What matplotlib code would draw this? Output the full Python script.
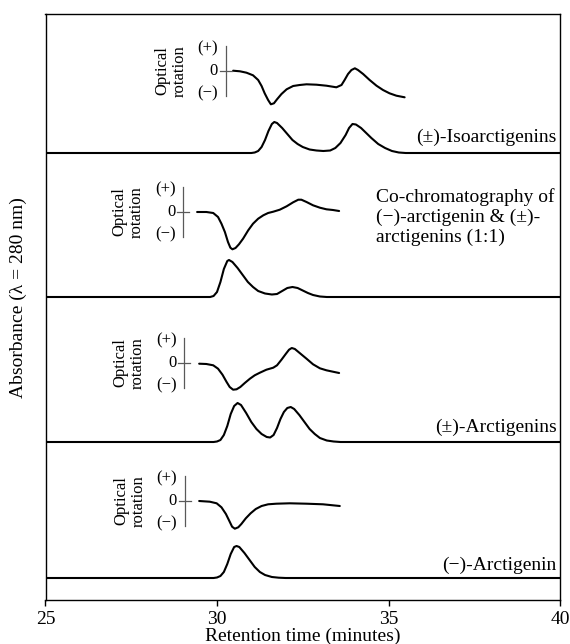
import matplotlib.pyplot as plt

plt.rcParams['font.family'] = ['Liberation Serif', 'DejaVu Serif']

# sample labels, top panel to bottom panel
samples = ['(±)-Isoarctigenins',
           'Co-chromatography of\n(−)-arctigenin & (±)-\narctigenins (1:1)',
           '(±)-Arctigenins',
           '(−)-Arctigenin']

# --- absorbance traces (retention time in min, height in arbitrary units) ---
iso_t = [25, 31.0, 31.1, 31.2, 31.3, 31.4, 31.5, 31.6, 31.67, 31.75, 31.9, 32.05,
         32.2, 32.35, 32.5, 32.7, 32.9, 33.1, 33.3, 33.45, 33.6, 33.75, 33.85,
         33.95, 34.05, 34.2, 34.35, 34.5, 34.7, 34.9, 35.1, 35.3, 35.5, 40]
iso_a = [0, 0, 0.5, 2, 6, 13, 22, 29, 31, 30, 25, 19,
         13, 9, 6, 3.5, 2.5, 2, 2.5, 5, 10, 18, 25,
         29, 28.5, 25, 20, 15, 9, 5, 2, 0.5, 0, 0]

cochrom_t = [25, 29.8, 29.9, 30.0, 30.1, 30.2, 30.3, 30.35, 30.45, 30.6, 30.75,
             30.9, 31.05, 31.2, 31.4, 31.6, 31.75, 31.9, 32.05, 32.2, 32.35,
             32.5, 32.65, 32.8, 33.0, 33.2, 40]
cochrom_a = [0, 0, 1, 5, 15, 28, 36, 37, 35, 29, 22,
             15, 10, 6, 3.5, 2.5, 3, 6, 9, 10, 9,
             6.5, 4, 2, 0.5, 0, 0]

racemic_t = [25, 29.9, 30.0, 30.1, 30.2, 30.3, 30.4, 30.5, 30.6, 30.7, 30.85,
             31.0, 31.15, 31.3, 31.45, 31.55, 31.65, 31.75, 31.85, 31.95, 32.05,
             32.15, 32.25, 32.4, 32.55, 32.7, 32.85, 33.0, 33.2, 33.4, 33.6, 40]
racemic_a = [0, 0, 0.5, 2, 7, 16, 28, 36, 39, 37, 29,
             20, 13, 8, 5, 4.5, 7, 14, 23, 30, 34,
             35, 33, 27, 20, 13, 8, 4, 1.5, 0.5, 0, 0]

minus_t = [25, 29.9, 30.0, 30.1, 30.2, 30.3, 30.4, 30.5, 30.57, 30.65, 30.8,
           30.95, 31.1, 31.25, 31.4, 31.6, 31.8, 32.0, 40]
minus_a = [0, 0, 0.5, 2, 6, 14, 24, 31, 32, 31, 25,
           18, 11, 6, 3, 1, 0.3, 0, 0]

# --- optical rotation traces (retention time in min, signal) ---
iso_or_t = [30.47, 30.67, 30.86, 31.05, 31.20, 31.30, 31.39, 31.49, 31.57, 31.66,
            31.75, 31.88, 32.03, 32.22, 32.41, 32.61, 32.90, 33.19, 33.48, 33.63,
            33.72, 33.82, 33.92, 34.02, 34.11, 34.26, 34.45, 34.65, 34.84, 35.03,
            35.23, 35.47]
iso_or = [0.3, -0.3, -1.7, -4.3, -9, -15, -22.3, -29, -33.3, -32.3,
          -28.3, -23, -18.3, -15, -14, -13.3, -13.7, -14.7, -16.3, -14,
          -9, -3, 1, 2.7, 1, -3, -9, -14.7, -19, -22.3,
          -24.7, -26.3]

cochrom_or_t = [29.42, 29.69, 29.89, 30.03, 30.13, 30.23, 30.32, 30.39, 30.45,
                30.54, 30.64, 30.76, 30.91, 31.05, 31.20, 31.35, 31.49, 31.64,
                31.83, 32.03, 32.22, 32.37, 32.46, 32.61, 32.80, 33.00, 33.19,
                33.38, 33.56]
cochrom_or = [0, 0, -1, -5, -11.7, -20, -30, -35.7, -37.3,
              -36, -32.3, -26.7, -18.3, -11.7, -6.7, -3.3, -1, 0.3,
              2.3, 5.7, 9.7, 12.3, 12.3, 10, 6.7, 4.3, 2.7,
              2, 1]

racemic_or_t = [29.48, 29.69, 29.89, 30.03, 30.16, 30.28, 30.37, 30.47, 30.57,
                30.68, 30.81, 30.96, 31.10, 31.25, 31.44, 31.64, 31.75, 31.88,
                32.01, 32.10, 32.18, 32.27, 32.41, 32.61, 32.80, 33.00, 33.19,
                33.38, 33.56]
racemic_or = [-0.7, -1, -2.3, -5.7, -11.7, -19, -24, -26.7, -26.3,
              -24, -20, -15.7, -12.3, -9.7, -6.7, -4.7, -2.3, 3.3,
              9.3, 13.3, 15, 14, 10, 4.3, -1.3, -5.3, -7.3,
              -8.7, -10]

minus_or_t = [29.48, 29.79, 29.99, 30.13, 30.26, 30.36, 30.44, 30.52, 30.62,
              30.71, 30.84, 30.98, 31.13, 31.30, 31.49, 31.73, 32.12, 32.61,
              33.09, 33.58]
minus_or = [0, -0.7, -2.3, -6.3, -13, -20, -25.7, -27.7, -26.3,
            -23, -17.3, -12.3, -8, -5, -3.3, -2.7, -2.3, -2.7,
            -3.3, -5]

abs_traces = [(iso_t, iso_a), (cochrom_t, cochrom_a),
              (racemic_t, racemic_a), (minus_t, minus_a)]
or_traces = [(iso_or_t, iso_or), (cochrom_or_t, cochrom_or),
             (racemic_or_t, racemic_or), (minus_or_t, minus_or)]

# layout of the stacked panels (y in pixel-like units from the bottom)
baselines = [447, 303, 158, 22]
or_zero = [529, 388, 237, 99]
or_axis_x = [30.25, 29.02, 29.05, 29.07]
px = 1 / 34.33          # one pixel expressed in minutes

fig = plt.figure(figsize=(5.7, 6.44), dpi=100)
ax = fig.add_axes([45.5 / 570, 44 / 644, 514.5 / 570, 586 / 644])
ax.set_xlim(25, 40)
ax.set_ylim(0, 586)

for i in range(4):
    t, a = abs_traces[i]
    ax.plot(t, [v + baselines[i] for v in a], color='black', lw=1.5,
            solid_joinstyle='round')
    t, r = or_traces[i]
    ax.plot(t, [v + or_zero[i] for v in r], color='black', lw=1.5,
            solid_joinstyle='round', solid_capstyle='round')

    # small optical rotation scale
    x0 = or_axis_x[i]
    z = or_zero[i]
    ax.plot([x0, x0], [z - 25, z + 25], color='0.35', lw=0.9)
    ax.plot([x0 - 6 * px, x0 + 6 * px], [z, z], color='0.35', lw=0.9)
    ax.text(x0 - 8 * px, z + 23, '(+)', fontsize=12, ha='right', va='center')
    ax.text(x0 - 8 * px, z, '0', fontsize=12, ha='right', va='center')
    ax.text(x0 - 8 * px, z - 22, '(−)', fontsize=12, ha='right', va='center')
    ax.text(x0 - 55 * px, z, 'Optical\nrotation', fontsize=12, rotation=90,
            ha='center', va='center', linespacing=1.1)

# sample names
ax.text(39.9, baselines[0] + 11, samples[0], fontsize=14, ha='right', va='baseline')
ax.text(34.63, baselines[1] + 55, samples[1], fontsize=14, ha='left', va='baseline')
ax.text(39.9, baselines[2] + 10, samples[2], fontsize=14, ha='right', va='baseline')
ax.text(39.9, baselines[3] + 8, samples[3], fontsize=14, ha='right', va='baseline')

ax.set_xticks([25, 30, 35, 40])
ax.set_yticks([])
ax.tick_params(axis='x', direction='out', length=4.5, width=1.0, labelsize=14, pad=3.5)
for s in ax.spines.values():
    s.set_linewidth(1.0)
ax.set_xlabel('Retention time (minutes)', fontsize=14, labelpad=0)
fig.text(18 / 570, 1 - 298 / 644, 'Absorbance (λ = 280 nm)', fontsize=14,
         rotation=90, ha='center', va='center')

fig.savefig('out.png', dpi=100)
